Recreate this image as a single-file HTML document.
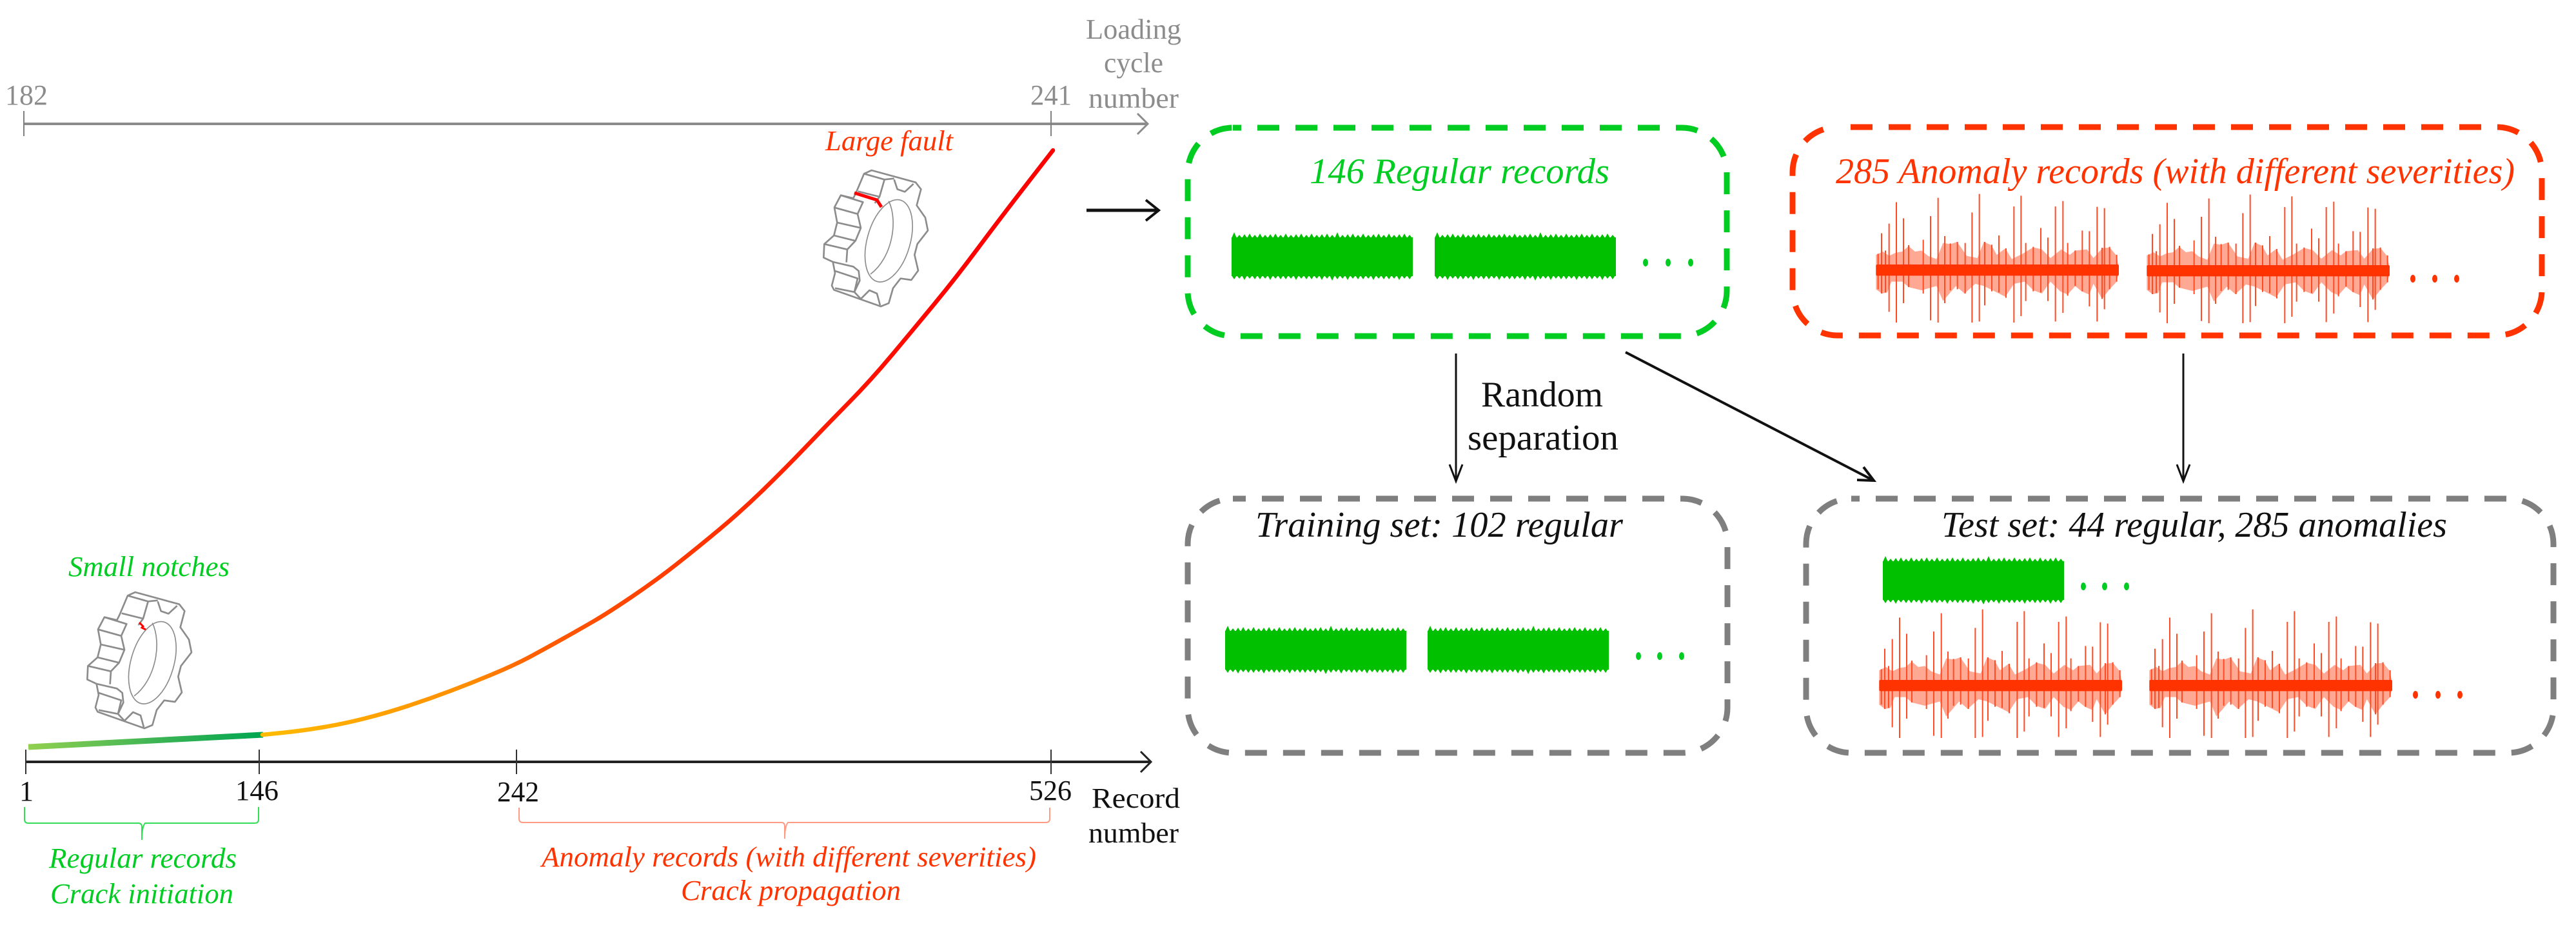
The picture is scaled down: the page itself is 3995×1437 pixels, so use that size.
<!DOCTYPE html>
<html><head><meta charset="utf-8"><style>html,body{margin:0;padding:0;background:#fff}svg{display:block}text{font-family:"Liberation Serif",serif}.i{font-style:italic}</style></head><body>
<svg width="3995" height="1437" viewBox="0 0 3995 1437" xmlns="http://www.w3.org/2000/svg">
<defs>
<linearGradient id="cg" gradientUnits="userSpaceOnUse" x1="408" y1="0" x2="1632" y2="0">
<stop offset="0" stop-color="#ffbb00"/><stop offset=".157" stop-color="#ffa000"/><stop offset=".263" stop-color="#ff8c00"/><stop offset=".34" stop-color="#ff6000"/><stop offset=".435" stop-color="#ff4a00"/><stop offset=".565" stop-color="#ff3300"/><stop offset=".77" stop-color="#ff1000"/><stop offset=".89" stop-color="#ff0000"/>
</linearGradient>
<linearGradient id="gg" gradientUnits="userSpaceOnUse" x1="44" y1="0" x2="408" y2="0">
<stop offset="0" stop-color="#92d050"/><stop offset=".55" stop-color="#3cb454"/><stop offset="1" stop-color="#00a651"/>
</linearGradient>
<g id="gs" fill="#00c000">
<rect x="0" y="8" width="281" height="60"/>
<path d="M0,9 l4,-9 4,9 l4,-5 4,5 l4,-6 4,6 l4,-7 4,7 l4,-5 4,5 l4,-7 4,7 l4,-5 4,5 l4,-6 4,6 l4,-7 4,7 l4,-5 4,5 l4,-7 4,7 l4,-5 4,5 l4,-6 4,6 l4,-7 4,7 l4,-5 4,5 l4,-7 4,7 l4,-5 4,5 l4,-6 4,6 l4,-7 4,7 l4,-5 4,5 l4,-9 4,9 l4,-5 4,5 l4,-6 4,6 l4,-7 4,7 l4,-5 4,5 l4,-7 4,7 l4,-5 4,5 l4,-6 4,6 l4,-7 4,7 l4,-5 4,5 l4,-7 4,7 l4,-5 4,5 l4,-6 4,6 l4,-7 4,7 l4,-5 4,5 l1,-2 V9Z"/>
<path d="M0,67 l4,6 4,-6 l4,5 4,-5 l4,7 4,-7 l4,5 4,-5 l4,6 4,-6 l4,6 4,-6 l4,5 4,-5 l4,7 4,-7 l4,5 4,-5 l4,6 4,-6 l4,6 4,-6 l4,5 4,-5 l4,7 4,-7 l4,5 4,-5 l4,6 4,-6 l4,6 4,-6 l4,5 4,-5 l4,7 4,-7 l4,5 4,-5 l4,8 4,-8 l4,6 4,-6 l4,5 4,-5 l4,7 4,-7 l4,5 4,-5 l4,6 4,-6 l4,6 4,-6 l4,5 4,-5 l4,7 4,-7 l4,5 4,-5 l4,6 4,-6 l4,6 4,-6 l4,5 4,-5 l4,7 4,-7 l4,5 4,-5 l4,6 4,-6 l1,1 V67Z"/>
</g>
<g id="rs" transform="translate(2880,280) scale(.33333)">
<path d="M88,345 120,330 150,350 180,335 210,330 240,305 270,330 300,325 330,350 370,365 400,290 435,295 465,285 490,320 510,350 560,360 590,285 625,300 650,345 690,315 720,365 770,340 820,310 860,320 900,360 950,320 990,345 1015,325 1070,320 1100,360 1140,315 1175,310 1208,350 1215,390 1215,440 1208,470 1175,505 1140,550 1100,480 1080,530 1045,515 1015,490 980,530 945,515 900,470 860,525 820,510 780,470 730,480 690,540 640,515 590,490 550,480 500,525 460,490 400,560 370,490 300,510 240,495 210,470 160,470 140,520 115,525 88,505Z" fill="#ffa995"/>
<path d="M114,245V525M149,200V610M183,100V660M216,175V570M342,165V650M377,80V660M408,258V570M535,148V660M569,62V655M660,255V520M730,120V660M763,70V630M855,220V520M888,265V560M923,120V655M958,95V615M1048,232V515M1081,235V585M1117,122V655M1151,128V598M98,340V505M132,325V520M240,300V495M308,275V525M434,292V510M467,285V505M503,290V525M594,285V580M627,298V515M693,315V545M785,290V560M820,308V515M980,290V535M1015,325V490M1140,312V550M1175,308V505M1208,345V470" stroke="#ff4a22" stroke-width="6" fill="none"/>
<rect x="88" y="390" width="1130" height="52" rx="6" fill="#ff3300"/>
</g>
<g id="gear" fill="none" stroke="#8c8c8c" stroke-width="8" stroke-linejoin="round" transform="translate(1240,250) scale(.33333)">
<path d="M300,58 L335,42 L540,98 L565,130 L545,205 L585,262 L597,322 L548,385 L535,435 L552,508 L520,552 L470,545 L435,590 L415,660 L378,675 L160,598 L150,578 L165,520 L155,468 L112,448 L115,385 L160,345 L175,285 L162,215 L192,158 L250,172 L262,148 L300,58Z" fill="#fff"/>
<path d="M300,58 L395,85 L372,165 L272,140M395,85 L440,80M440,85 L455,130 L490,142 L530,105M192,158 L295,190 L270,245 L162,215M175,285 L285,310M160,345 L260,370 L222,410 L115,385M222,410 L218,470M165,510 L270,545 L255,608 L165,590M155,468 L250,490 L275,510 L280,555 L255,608 L285,640M285,640 L325,600 L360,615 L375,670M270,245 L285,310 L260,370M372,165 L350,195"/>
<ellipse cx="415" cy="370" rx="100" ry="197" transform="rotate(16 415 370)" stroke-width="5"/>
<path d="M415,185 C460,280 430,450 330,525" stroke-width="5"/>
</g>
</defs>

<!-- top axis -->
<path d="M37,192H1778" stroke="#8c8c8c" stroke-width="4" fill="none"/>
<path d="M1764,176 L1780,192 L1764,208" stroke="#8c8c8c" stroke-width="3" fill="none"/>
<path d="M37,172V211M1630,172V211" stroke="#808080" stroke-width="2"/>
<g font-size="44" fill="#8c8c8c">
<text x="8" y="162" textLength="66" lengthAdjust="spacingAndGlyphs">182</text>
<text x="1598" y="162" textLength="64" lengthAdjust="spacingAndGlyphs">241</text>
<text x="1684" y="60" textLength="148" lengthAdjust="spacingAndGlyphs">Loading</text>
<text x="1712" y="112" textLength="92" lengthAdjust="spacingAndGlyphs">cycle</text>
<text x="1688" y="167" textLength="140" lengthAdjust="spacingAndGlyphs">number</text>
</g>
<text class="i" x="1280" y="233" font-size="44" fill="#ff3300" textLength="198" lengthAdjust="spacingAndGlyphs">Large fault</text>

<!-- gears -->
<use href="#gear"/>
<path d="M1325,299 L1360,310 L1367,321" stroke="#ff0000" stroke-width="5" fill="none" stroke-linejoin="round"/>
<use href="#gear" transform="translate(-1142,654)"/>
<path d="M216,965 L222,971 L220,973 L226,976" stroke="#ff0000" stroke-width="3" fill="none"/>
<text class="i" x="106" y="893" font-size="44" fill="#00cc22" textLength="250" lengthAdjust="spacingAndGlyphs">Small notches</text>

<!-- curve -->
<path d="M44,1158 L408,1139" stroke="url(#gg)" stroke-width="9" fill="none"/>
<path d="M407,1139 L437,1136 Q467,1133 500,1127.5 Q533,1122 566.5,1113.5 Q600,1105 633.5,1094 Q667,1083 700,1070.5 Q733,1058 766.5,1044 Q800,1030 825,1016.5 Q850,1003 875,989 Q900,975 921.5,962.5 Q943,950 980,925 Q1017,900 1050,874 Q1083,848 1116.5,820 Q1150,792 1183.5,759.5 Q1217,727 1250,692.5 Q1283,658 1316.5,624 Q1350,590 1383.5,550 Q1417,510 1450,470 Q1483,430 1516.5,385 Q1550,340 1591.5,286.5 L1633,233" stroke="url(#cg)" stroke-width="6.5" stroke-linecap="round" fill="none"/>

<!-- bottom axis -->
<path d="M40,1181H1783" stroke="#222" stroke-width="4" fill="none"/>
<path d="M1769,1165 L1785,1181 L1769,1197" stroke="#222" stroke-width="3" fill="none"/>
<path d="M40,1162V1200M402,1162V1200M801,1162V1200M1630,1162V1200" stroke="#333" stroke-width="2"/>
<g font-size="44" fill="#111">
<text x="30" y="1241">1</text>
<text x="365" y="1240" textLength="67" lengthAdjust="spacingAndGlyphs">146</text>
<text x="771" y="1242" textLength="65" lengthAdjust="spacingAndGlyphs">242</text>
<text x="1596" y="1240" textLength="66" lengthAdjust="spacingAndGlyphs">526</text>
<text x="1693" y="1252" textLength="137" lengthAdjust="spacingAndGlyphs">Record</text>
<text x="1688" y="1306" textLength="140" lengthAdjust="spacingAndGlyphs">number</text>
</g>
<path d="M38,1251 V1270 Q38,1276 44,1276 H215 Q220,1276 220,1282 V1302 Q220,1282 225,1276 H395 Q401,1276 401,1270 V1251" stroke="#33dd55" stroke-width="2" fill="none"/>
<path d="M805,1252 V1269 Q805,1275 811,1275 H1212 Q1217,1275 1217,1281 V1300 Q1217,1281 1222,1275 H1622 Q1628,1275 1628,1269 V1252" stroke="#ff9a85" stroke-width="2" fill="none"/>
<g font-size="44" class="i">
<text x="76" y="1345" fill="#00cc22" textLength="291" lengthAdjust="spacingAndGlyphs">Regular records</text>
<text x="78" y="1400" fill="#00cc22" textLength="284" lengthAdjust="spacingAndGlyphs">Crack initiation</text>
<text x="840" y="1343" fill="#ff3300" textLength="767" lengthAdjust="spacingAndGlyphs">Anomaly records (with different severities)</text>
<text x="1056" y="1395" fill="#ff3300" textLength="341" lengthAdjust="spacingAndGlyphs">Crack propagation</text>
</g>

<!-- arrow to boxes -->
<path d="M1685,326H1795" stroke="#111" stroke-width="5" fill="none"/>
<path d="M1777,310 L1797,326 L1777,342" stroke="#111" stroke-width="4" fill="none"/>

<!-- boxes -->
<g fill="none" stroke-width="9" stroke-dasharray="34 25">
<rect x="1842" y="198" width="836" height="323" rx="70" stroke="#00cc22" stroke-dashoffset="-38"/>
<rect x="2780" y="197" width="1162" height="323" rx="70" stroke="#ff3300" stroke-dashoffset="-20"/>
<rect x="1842" y="773" width="837" height="394" rx="70" stroke="#7f7f7f" stroke-dashoffset="-45"/>
<rect x="2801" y="773" width="1159" height="394" rx="70" stroke="#7f7f7f" stroke-dashoffset="-38"/>
</g>

<g font-size="56" class="i">
<text x="2031" y="284" fill="#00cc22" textLength="465" lengthAdjust="spacingAndGlyphs">146 Regular records</text>
<text x="2847" y="284" fill="#ff3300" textLength="1053" lengthAdjust="spacingAndGlyphs">285 Anomaly records (with different severities)</text>
<text x="1947" y="832" fill="#111" textLength="570" lengthAdjust="spacingAndGlyphs">Training set: 102 regular</text>
<text x="3011" y="832" fill="#111" textLength="784" lengthAdjust="spacingAndGlyphs">Test set: 44 regular, 285 anomalies</text>
</g>
<g font-size="56" fill="#111">
<text x="2297" y="630" textLength="189" lengthAdjust="spacingAndGlyphs">Random</text>
<text x="2276" y="697" textLength="234" lengthAdjust="spacingAndGlyphs">separation</text>
</g>

<!-- signals -->
<use href="#gs" x="1910" y="360"/>
<use href="#gs" x="2225" y="360"/>
<use href="#gs" x="1900" y="970"/>
<use href="#gs" x="2214" y="970"/>
<use href="#gs" x="2920" y="862"/>
<use href="#rs"/>
<use href="#rs" transform="translate(420,1)"/>
<use href="#rs" transform="translate(5,644)"/>
<use href="#rs" transform="translate(424,644)"/>

<g fill="#00cc22">
<ellipse cx="2552" cy="407" rx="4" ry="6"/><ellipse cx="2587" cy="407" rx="4" ry="6"/><ellipse cx="2622" cy="407" rx="4" ry="6"/>
<ellipse cx="2541" cy="1017" rx="4" ry="6"/><ellipse cx="2574" cy="1017" rx="4" ry="6"/><ellipse cx="2608" cy="1017" rx="4" ry="6"/>
<ellipse cx="3231" cy="909" rx="4" ry="6"/><ellipse cx="3264" cy="909" rx="4" ry="6"/><ellipse cx="3298" cy="909" rx="4" ry="6"/>
</g>
<g fill="#ff3300">
<ellipse cx="3742" cy="432" rx="4" ry="6"/><ellipse cx="3776" cy="432" rx="4" ry="6"/><ellipse cx="3810" cy="432" rx="4" ry="6"/>
<ellipse cx="3746" cy="1077" rx="4" ry="6"/><ellipse cx="3781" cy="1077" rx="4" ry="6"/><ellipse cx="3815" cy="1077" rx="4" ry="6"/>
</g>

<!-- arrows -->
<path d="M2258,548V744M3386,548V744" stroke="#111" stroke-width="3" fill="none"/>
<path d="M2248,720 L2258,746 L2268,720M3376,720 L3386,746 L3396,720" stroke="#111" stroke-width="3" fill="none"/>
<path d="M2521,546 L2904,744" stroke="#111" stroke-width="4" fill="none"/>
<path d="M2880,744 L2906,745 L2890,724" stroke="#111" stroke-width="4" fill="none"/>
</svg>
</body></html>
